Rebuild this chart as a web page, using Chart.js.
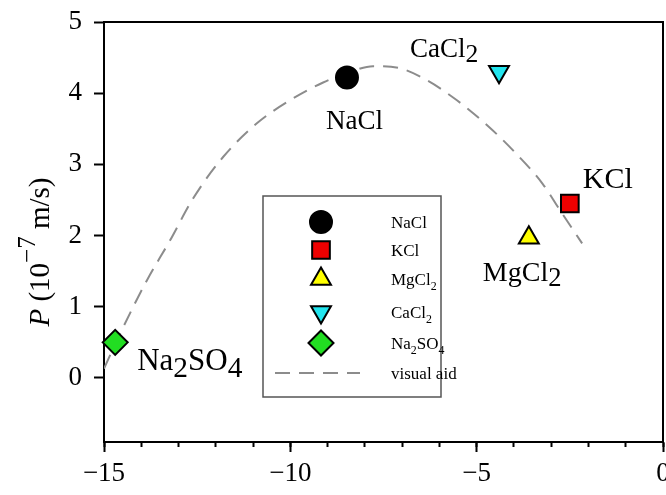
<!DOCTYPE html>
<html><head><meta charset="utf-8">
<script src="https://cdn.jsdelivr.net/npm/chart.js@4/dist/chart.umd.min.js"></script>
<style>html,body{margin:0;padding:0;background:#fff}</style>
</head><body>
<canvas id="c" width="666" height="495"></canvas>
<script>
// ---- data ----
const salts  = ['NaCl', 'KCl', 'MgCl2', 'CaCl2', 'Na2SO4'];
const saltX  = [-8.48, -2.50, -3.60, -4.40, -14.70];
const saltY  = [4.22, 2.45, 1.97, 4.30, 0.50];
const aidX   = [-15.0, -14.57, -13.85, -13.23, -12.61, -11.81, -10.89, -10.01, -9.12, -8.48, -7.78, -7.06, -6.33, -5.53, -4.72, -4.03, -3.22, -2.77, -2.17];
const aidY   = [0.13, 0.62, 1.37, 1.93, 2.52, 3.10, 3.58, 3.90, 4.15, 4.28, 4.38, 4.35, 4.18, 3.90, 3.55, 3.20, 2.72, 2.36, 1.89];
const xTicks = [-15, -10, -5, 0];
const yTicks = [0, 1, 2, 3, 4, 5];
const aidLabel = 'visual aid';

// ---- styles ----
const styles = [
  {pointStyle: 'circle',   radius: 11, rotation: 0,   bg: '#000000'},
  {pointStyle: 'rect',     radius: 12.5, rotation: 0, bg: '#ee0000'},
  {pointStyle: 'triangle', radius: 11.5, rotation: 0, bg: '#ffff00'},
  {pointStyle: 'triangle', radius: 11.5, rotation: 180, bg: '#22e5ee'},
  {pointStyle: 'rectRot',  radius: 12.5, rotation: 0, bg: '#22dd22'}
];
// label placement (pixels from marker centre): [dx of left edge, dy of baseline, font size]
const labelPlace = [[-21, 51, 27], [13, -16, 30], [-46, 43, 28], [-89, -15, 27], [22, 28, 31]];
const SERIF = '"Liberation Serif", "Times New Roman", serif';

const datasets = salts.map((s, i) => ({
  label: s,
  data: [{x: saltX[i], y: saltY[i]}],
  showLine: false,
  pointStyle: styles[i].pointStyle,
  pointRadius: styles[i].radius,
  pointHoverRadius: styles[i].radius,
  pointRotation: styles[i].rotation,
  pointBackgroundColor: styles[i].bg,
  pointBorderColor: '#000',
  pointBorderWidth: 2,
  clip: false,
  order: 0
}));
datasets.push({
  label: aidLabel,
  type: 'line',
  data: aidX.map((x, i) => ({x, y: aidY[i]})),
  showLine: true,
  pointRadius: 0,
  borderColor: '#8c8c8c',
  borderWidth: 2,
  borderDash: [15, 9],
  cubicInterpolationMode: 'monotone',
  fill: false,
  order: 10
});

function drawFormula(ctx, text, x, y, size, subScale, subDrop, align) {
  const runs = text.match(/\d+|\D+/g) || [text];
  const info = runs.map(r => {
    const isSub = /^\d+$/.test(r);
    const fs = isSub ? size * subScale : size;
    ctx.font = fs + 'px ' + SERIF;
    return {r, isSub, fs, w: ctx.measureText(r).width};
  });
  const total = info.reduce((a, b) => a + b.w, 0);
  let cx = align === 'center' ? x - total / 2 : x;
  ctx.textAlign = 'left';
  ctx.textBaseline = 'alphabetic';
  info.forEach(p => {
    ctx.font = p.fs + 'px ' + SERIF;
    ctx.fillText(p.r, cx, p.isSub ? y + size * subDrop : y);
    cx += p.w;
  });
}

const extras = {
  id: 'extras',
  afterDatasetsDraw(chart) {
    const ctx = chart.ctx;
    const xs = chart.scales.x, ys = chart.scales.y;
    ctx.save();
    ctx.fillStyle = '#000';
    // point labels
    salts.forEach((s, i) => {
      const px = xs.getPixelForValue(saltX[i]);
      const py = ys.getPixelForValue(saltY[i]);
      const p = labelPlace[i];
      drawFormula(ctx, s, px + p[0], py + p[1], p[2], 0.95, 0.2, 'left');
    });
    // legend box
    const bx = 263, by = 196, bw = 178, bh = 201;
    ctx.fillStyle = '#fff';
    ctx.fillRect(bx, by, bw, bh);
    ctx.strokeStyle = '#555';
    ctx.lineWidth = 1.5;
    ctx.strokeRect(bx, by, bw, bh);
    const rows = [222, 250, 279, 312, 343, 373];
    const mx = 321, tx = 391;
    chart.data.datasets.forEach((ds, i) => {
      const y = rows[i];
      if (ds.type === 'line') {
        ctx.save();
        ctx.strokeStyle = ds.borderColor;
        ctx.lineWidth = ds.borderWidth;
        ctx.setLineDash(ds.borderDash);
        ctx.beginPath();
        ctx.moveTo(275, y);
        ctx.lineTo(360, y);
        ctx.stroke();
        ctx.restore();
      } else {
        ctx.save();
        ctx.fillStyle = ds.pointBackgroundColor;
        ctx.strokeStyle = ds.pointBorderColor;
        ctx.lineWidth = ds.pointBorderWidth;
        Chart.helpers.drawPoint(ctx, {
          pointStyle: ds.pointStyle, rotation: ds.pointRotation,
          radius: ds.pointRadius, borderWidth: ds.pointBorderWidth
        }, mx, y);
        ctx.restore();
      }
      ctx.fillStyle = '#000';
      drawFormula(ctx, ds.label, tx, y + 6, 17, 0.7, 0.3, 'left');
    });
    ctx.restore();
  },
  afterDraw(chart) {
    // y-axis title: P (10^-7 m/s)
    const ctx = chart.ctx;
    ctx.save();
    ctx.translate(49, 252);
    ctx.rotate(-Math.PI / 2);
    ctx.fillStyle = '#000';
    const size = 29;
    const parts = [
      {t: 'P', f: 'italic ' + size + 'px ' + SERIF, dy: 0},
      {t: ' (10', f: size + 'px ' + SERIF, dy: 0},
      {t: '\u22127', f: Math.round(size * 0.85) + 'px ' + SERIF, dy: -size * 0.5},
      {t: ' m/s)', f: size + 'px ' + SERIF, dy: 0}
    ];
    let total = 0;
    parts.forEach(p => { ctx.font = p.f; p.w = ctx.measureText(p.t).width; total += p.w; });
    let cx = -total / 2;
    ctx.textBaseline = 'alphabetic';
    parts.forEach(p => { ctx.font = p.f; ctx.fillText(p.t, cx, p.dy); cx += p.w; });
    ctx.restore();
  }
};

const fmt = v => (v < 0 ? '\u2212' + Math.abs(v) : String(v));
const noPad = s => { s.paddingLeft = 0; s.paddingRight = 0; s.paddingTop = 0; s.paddingBottom = 0; };

new Chart(document.getElementById('c'), {
  type: 'scatter',
  data: {datasets},
  plugins: [extras],
  options: {
    responsive: false,
    animation: false,
    devicePixelRatio: 1,
    layout: {autoPadding: false, padding: {top: 22, right: 3, left: 0, bottom: 0}},
    plugins: {legend: {display: false}, tooltip: {enabled: false}},
    scales: {
      x: {
        type: 'linear', position: 'bottom', weight: 1,
        min: xTicks[0], max: xTicks[xTicks.length - 1],
        afterBuildTicks: s => { s.ticks = xTicks.map(v => ({value: v})); },
        ticks: {color: '#000', font: {family: SERIF, size: 27}, padding: 6, callback: fmt, maxRotation: 0, autoSkip: false},
        grid: {drawOnChartArea: false, tickLength: 10, tickWidth: 2, tickColor: '#000'},
        border: {color: '#000', width: 2},
        afterFit: s => { s.height = 53; noPad(s); }
      },
      xMinor: {
        type: 'linear', position: 'bottom', weight: 0,
        min: xTicks[0], max: xTicks[xTicks.length - 1],
        ticks: {stepSize: 1, display: false},
        grid: {drawOnChartArea: false, tickLength: 5, tickWidth: 2, tickColor: '#000'},
        border: {display: false},
        afterFit: s => { s.height = 0; noPad(s); }
      },
      xTop: {
        type: 'linear', position: 'top',
        min: xTicks[0], max: xTicks[xTicks.length - 1],
        ticks: {display: false},
        grid: {display: false, drawTicks: false},
        border: {color: '#000', width: 2},
        afterFit: s => { s.height = 0; noPad(s); }
      },
      y: {
        type: 'linear', position: 'left',
        min: -0.9, max: 5,
        afterBuildTicks: s => { s.ticks = yTicks.map(v => ({value: v})); },
        ticks: {color: '#000', font: {family: SERIF, size: 27}, padding: 12, callback: fmt},
        grid: {drawOnChartArea: false, tickLength: 10, tickWidth: 2, tickColor: '#000'},
        border: {color: '#000', width: 2},
        afterFit: s => { s.width = 104; noPad(s); }
      },
      yRight: {
        type: 'linear', position: 'right',
        min: -0.9, max: 5,
        ticks: {display: false},
        grid: {display: false, drawTicks: false},
        border: {color: '#000', width: 2},
        afterFit: s => { s.width = 0; noPad(s); }
      }
    }
  }
});
</script>
</body></html>
